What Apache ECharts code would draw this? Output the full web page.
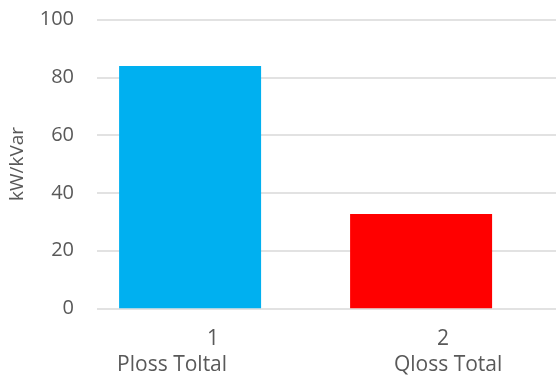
<!DOCTYPE html>
<html>
<head>
<meta charset="utf-8">
<script src="https://cdn.jsdelivr.net/npm/echarts@6/dist/echarts.min.js"></script>
<style>
  html, body { margin: 0; padding: 0; background: #fff; }
  #chart { width: 556px; height: 381px; }
</style>
</head>
<body>
<div id="chart"></div>
<script>
// Loss totals per case
const caseIndex = [1, 2];
const caseNumbers = ['1', '2'];
const caseNames = ['Ploss Toltal', 'Qloss Total'];
const lossValues = [84.0, 32.7];
const barColors = ['#00B0F0', '#FF0000'];
const yTicks = { min: 0, max: 100, interval: 20 };
const yTitle = 'kW/kVar';

const textColor = '#595959';
const font = '"Open Sans", "Noto Sans", sans-serif';

const chart = echarts.init(document.getElementById('chart'), null, { renderer: 'canvas' });

const barData = caseIndex.map((x, i) => ({
  value: [x, lossValues[i]],
  itemStyle: { color: barColors[i] }
}));

const labelStyle = (pad) => ({
  align: 'center', padding: pad, fontSize: 21, lineHeight: 26,
  color: textColor, fontFamily: font
});

chart.setOption({
  animation: false,
  backgroundColor: '#ffffff',
  grid: { left: 97, right: 0, top: 19.7, bottom: 72.7, containLabel: false },
  xAxis: {
    type: 'value',
    min: 0.597,
    max: 2.584,
    axisLine: { show: false },
    axisTick: { show: false },
    splitLine: { show: false },
    axisLabel: {
      customValues: caseIndex,
      margin: 18,
      color: textColor,
      fontFamily: font,
      fontSize: 21,
      lineHeight: 26,
      formatter: function (v) {
        const i = caseIndex.indexOf(Math.round(v));
        if (i < 0) return '';
        return '{n' + i + '|' + caseNumbers[i] + '}\n{c' + i + '|' + caseNames[i] + '}';
      },
      rich: {
        n0: labelStyle([0, 0, 0, 46]),
        c0: labelStyle([0, 36, 0, 0]),
        n1: labelStyle([0, 0, 0, 44]),
        c1: labelStyle([0, 0, 0, 54])
      }
    }
  },
  yAxis: {
    type: 'value',
    min: yTicks.min,
    max: yTicks.max,
    interval: yTicks.interval,
    name: yTitle,
    nameLocation: 'middle',
    nameRotate: 90,
    nameGap: 70,
    nameTextStyle: { color: textColor, fontFamily: font, fontSize: 19 },
    axisLine: { show: false },
    axisTick: { show: false },
    axisLabel: { color: textColor, fontFamily: font, fontSize: 20, margin: 23 },
    splitLine: { lineStyle: { color: '#D9D9D9', width: 1.5 } }
  },
  series: [{
    type: 'bar',
    data: barData,
    barWidth: 142
  }]
});
</script>
</body>
</html>
